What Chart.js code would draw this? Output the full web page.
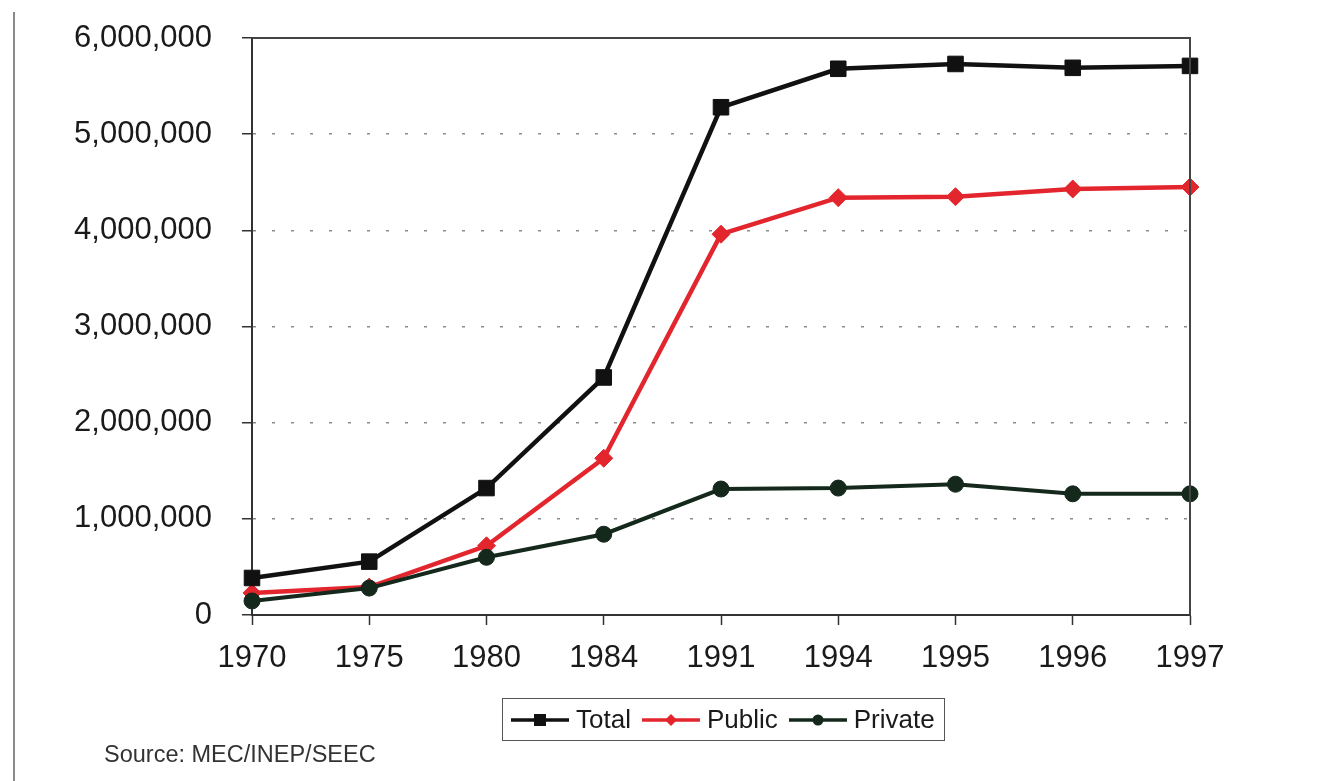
<!DOCTYPE html>
<html>
<head>
<meta charset="utf-8">
<script src="https://cdn.jsdelivr.net/npm/chart.js@4.4.0/dist/chart.umd.min.js"></script>
<style>
    body { margin: 0; background: #fff; font-family: "Liberation Sans", Arial, sans-serif; }
    #wrap { position: relative; width: 1340px; height: 781px; overflow: hidden; }
    #edge { position: absolute; left: 13px; top: 12px; width: 2px; height: 780px; background: #8a8a8a; }
    #legend {
        position: absolute; left: 502px; top: 698px; width: 443px; height: 43px;
        box-sizing: border-box; border: 1.5px solid #555;
        display: flex; align-items: center; padding-left: 8px;
        font-size: 26px; color: #1a1a1a;
    }
    #legend .item { display: flex; align-items: center; }
    #legend svg { margin-right: 7px; }
    #legend .label { margin-right: 11px; }
    #source { position: absolute; left: 104px; top: 741px; font-size: 23.5px; color: #333; }
</style>
</head>
<body>
<div id="wrap">
    <div id="edge"></div>
    <canvas id="chart"></canvas>
    <div id="legend"></div>
    <div id="source">Source: MEC/INEP/SEEC</div>
</div>
<script>
const years = ["1970", "1975", "1980", "1984", "1991", "1994", "1995", "1996", "1997"];
const totalValues   = [385000, 555000, 1320000, 2470000, 5280000, 5680000, 5730000, 5690000, 5710000];
const publicValues  = [230000, 290000, 720000, 1630000, 3960000, 4340000, 4350000, 4430000, 4450000];
const privateValues = [146000, 280000, 600000, 840000, 1310000, 1320000, 1360000, 1260000, 1260000];
const yTicks = [0, 1000000, 2000000, 3000000, 4000000, 5000000, 6000000];

const seriesNames  = ["Total", "Public", "Private"];
const seriesColors = ["#111111", "#e3262d", "#14281b"];

Chart.defaults.font.family = "'Liberation Sans', Arial, sans-serif";

// box around the plot (top/right sides)
const frame = {
    id: "frame",
    afterDatasetsDraw(chart) {
        const a = chart.chartArea, ctx = chart.ctx;
        ctx.save();
        ctx.strokeStyle = "#444";
        ctx.lineWidth = 2;
        ctx.beginPath();
        ctx.moveTo(a.left, a.top);
        ctx.lineTo(a.right, a.top);
        ctx.lineTo(a.right, a.bottom);
        ctx.stroke();
        ctx.restore();
    }
};

new Chart(document.getElementById("chart"), {
    type: "line",
    data: {
        labels: years,
        datasets: [
            {
                label: seriesNames[0], data: totalValues, order: 1,
                borderColor: seriesColors[0], backgroundColor: seriesColors[0],
                borderWidth: 4.5, pointStyle: "rect", pointRadius: 11, pointBorderWidth: 1
            },
            {
                label: seriesNames[1], data: publicValues, order: 2,
                borderColor: seriesColors[1], backgroundColor: seriesColors[1],
                borderWidth: 4.5, pointStyle: "rectRot", pointRadius: 9, pointBorderWidth: 1
            },
            {
                label: seriesNames[2], data: privateValues, order: 0,
                borderColor: seriesColors[2], backgroundColor: seriesColors[2],
                borderWidth: 4, pointStyle: "circle", pointRadius: 8, pointBorderWidth: 1
            }
        ]
    },
    options: {
        responsive: true,
        maintainAspectRatio: false,
        animation: false,
        tension: 0,
        layout: { padding: { top: 38, right: 150, left: 0, bottom: 0 } },
        plugins: { legend: { display: false }, tooltip: { enabled: false } },
        scales: {
            x: {
                offset: false,
                afterFit: s => { s.height = 166; },
                grid: { drawOnChartArea: false, drawTicks: true, tickLength: 10, tickColor: "#333", tickWidth: 1.5 },
                border: { color: "#333", width: 2 },
                ticks: { color: "#1a1a1a", font: { size: 31 }, padding: 15, maxRotation: 0 }
            },
            y: {
                min: 0,
                max: 6000000,
                afterFit: s => { s.width = 252; s.paddingTop = 0; s.paddingBottom = 0; },
                afterBuildTicks: s => { s.ticks = yTicks.map(v => ({ value: v })); },
                grid: {
                    color: "#8c8c8c", lineWidth: 1.5,
                    tickLength: 10, tickColor: "#333", tickWidth: 1.5, tickBorderDash: []
                },
                border: { color: "#333", width: 2, dash: [3, 16] },
                ticks: {
                    color: "#1a1a1a", font: { size: 31 }, padding: 30,
                    callback: v => v.toLocaleString("en-US")
                }
            }
        }
    },
    plugins: [frame]
});

// legend with line + marker samples
const markers = [
    c => `<rect x="23" y="6" width="12" height="12" fill="${c}"/>`,
    c => `<polygon points="29,6 35,12 29,18 23,12" fill="${c}"/>`,
    c => `<circle cx="29" cy="12" r="5.5" fill="${c}"/>`
];
const legendEl = document.getElementById("legend");
legendEl.innerHTML = seriesNames.map((name, i) => `
    <div class="item">
        <svg width="58" height="24"><line x1="0" y1="12" x2="58" y2="12" stroke="${seriesColors[i]}" stroke-width="3.5"/>${markers[i](seriesColors[i])}</svg>
        <span class="label">${name}</span>
    </div>`).join("");
</script>
</body>
</html>
